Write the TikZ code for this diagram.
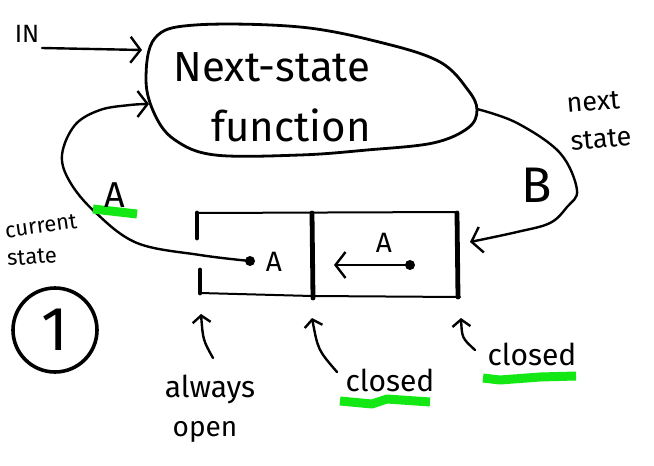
\documentclass[tikz,border=0pt]{standalone}
\usepackage{fontspec}
\setmainfont{Fira Sans}
\usetikzlibrary{arrows.meta}
\definecolor{hilite}{RGB}{20,232,20}
\tikzset{
  pen/.style={line width=2.4pt, line cap=round, line join=round},
  barb/.style={-{Straight Barb[length=10pt,width=26pt,line width=2.4pt]}},
  smallbarb/.style={-{Straight Barb[length=7pt,width=18pt,line width=2.4pt]}},
  hand/.style={inner sep=0pt, text=black},
  marker/.style={line width=9pt, draw=hilite, line cap=butt, line join=round},
  wall/.style={line width=4.8pt, line cap=round},
  edge/.style={line width=2pt, line cap=round},
}
\newcommand{\fs}[1]{\fontsize{#1pt}{#1pt}\selectfont}
\begin{document}
\begin{tikzpicture}[x=1pt, y=-1pt]
\useasboundingbox (0,0) rectangle (654,466);

% next-state function blob
\draw[line width=2.8pt, line join=round] plot[smooth cycle, tension=0.6] coordinates
  {(195,25) (300,27) (383,43) (440,62) (468,90) (477,110) (468,128) (433,143)
   (367,150) (300,155) (215,155) (175,140) (155,115) (146,80) (155,38)};
\node[hand, font=\fs{42}] (nsf1) at (272,67) {Next-state};
\node[hand, font=\fs{42}] (nsf2) at (291,125) {function};
\coordinate (blobIN) at (142,50);
\coordinate (blobCS) at (149,104);
\coordinate (blobOUT) at (477,109);

% input
\node[hand, font=\fs{25}] (inlbl) at (27,34) {IN};
\coordinate (intail) at (42,48);
\draw[pen, barb] (intail) -- (blobIN);

% register cells
\draw[edge] (197,213) -- (457,212);
\draw[edge] (200,293) -- (312,296) -- (460,297);
\draw[wall] (197,213) -- (197,238);
\draw[wall] (200,270) -- (200,293);
\draw[wall] (312,213) -- (313,298);
\draw[wall] (457,213) -- (458,297);

% stored values
\fill (250,261) circle (5pt) coordinate (dotA);
\node[hand, font=\fs{28}] (valA) at (274,262) {A};
\fill (410,265) circle (5pt) coordinate (dotB);
\node[hand, font=\fs{28}] (valA2) at (384,243) {A};
\coordinate (shiftend) at (334,265);
\draw[pen, barb] (dotB) -- (shiftend);

% current state feedback
\draw[pen, barb] plot[smooth, tension=0.6] coordinates
  {(dotA) (200,255) (137,243) (95,212) (70,182) (62,155) (75,125) (100,110) (130,105) (blobCS)};
\draw[marker] (93,209) -- (137,214);
\node[hand, font=\fs{36}] (curA) at (115,195) {A};
\node[hand, font=\fs{22}, rotate=8] (cur1) at (41,226) {current};
\node[hand, font=\fs{22}, rotate=4] (cur2) at (32,257) {state};

% next state path
\coordinate (cellR) at (470,242);
\draw[pen, barb] plot[smooth, tension=0.6] coordinates
  {(blobOUT) (517,123) (560,153) (577,190) (567,207) (550,223) (517,232) (cellR)};
\node[hand, font=\fs{50}] (nextB) at (537,185) {B};
\node[hand, font=\fs{27}, rotate=5] (nx1) at (593,102) {next};
\node[hand, font=\fs{27}, rotate=5] (nx2) at (601,139) {state};

% annotations below the cells
\node[hand, font=\fs{30}] (alw1) at (210,389) {always};
\node[hand, font=\fs{28}] (alw2) at (205,432) {open};
\coordinate (t1) at (213,358);
\coordinate (h1) at (201,314);
\draw[pen, smallbarb] (t1) .. controls (203,340) .. (h1);

\draw[marker] (340,401) -- (372,404) -- (387,399) -- (430,402);
\node[hand, font=\fs{30}] (cl1) at (390,380) {closed};
\coordinate (t2) at (337,372);
\coordinate (h2) at (312,318);
\draw[pen, smallbarb] (t2) .. controls (318,350) .. (h2);

\draw[marker] (483,378) -- (500,380) -- (540,377) -- (576,376);
\node[hand, font=\fs{30}] (cl2) at (532,354) {closed};
\coordinate (t3) at (475,350);
\coordinate (h3) at (461,318);
\draw[pen, smallbarb] (t3) .. controls (462,338) .. (h3);

% step number
\node[draw, circle, line width=3.6pt, minimum size=84pt, inner sep=0pt, font=\fs{62}] (stepno) at (55,330) {1};
\end{tikzpicture}
\end{document}
